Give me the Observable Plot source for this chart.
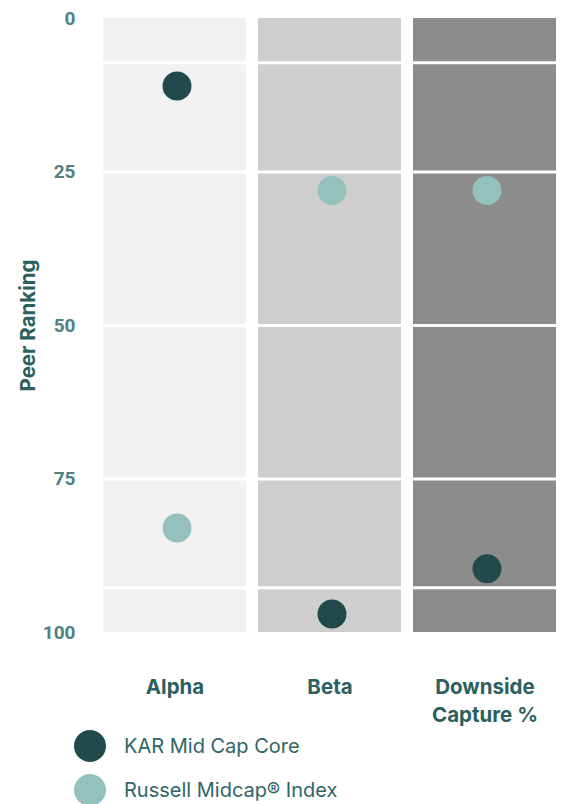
<!DOCTYPE html>
<html>
<head>
<meta charset="utf-8">
<script src="https://cdn.jsdelivr.net/npm/d3@7"></script>
<script src="https://cdn.jsdelivr.net/npm/@observablehq/plot@0.6"></script>
<style>
  html, body { margin: 0; padding: 0; background: #fff; }
  #wrap { position: relative; width: 564px; height: 804px; overflow: hidden; }
  #chart svg { display: block; }
  .legend { position: absolute; left: 0; top: 724px; font-family: Inter, "Open Sans", sans-serif; font-size: 20px; color: #2f6566; }
  .legend .row { display: flex; align-items: center; height: 44px; }
  .legend svg { margin-left: 74px; margin-right: 18px; }
</style>
</head>
<body>
<div id="wrap">
<div id="chart"></div>
<div class="legend" id="legend"></div>
</div>
<script>
const metrics = ["Alpha", "Beta", "Downside Capture %"];
const metricLabels = ["Alpha", "Beta", "Downside\nCapture %"];
const bgColors = ["#f2f2f2", "#cecece", "#8c8c8c"];
const series = ["KAR Mid Cap Core", "Russell Midcap\u00AE Index"];
const seriesColors = ["#224a4c", "#94c1bc"];
const karValues = [11, 97, 89.6];
const russellValues = [83, 28, 28];
const yTicks = [0, 25, 50, 75, 100];
const gridValues = [7.2, 25, 50, 75, 92.7];

const points = [];
metrics.forEach((m, i) => {
  points.push({metric: m, series: series[0], value: karValues[i]});
  points.push({metric: m, series: series[1], value: russellValues[i]});
});

const bgMarks = metrics.map((m, i) =>
  Plot.barY([m], {x: d => d, y1: 0, y2: 100, fill: bgColors[i]})
);

const chart = Plot.plot({
  width: 564,
  height: 740,
  marginLeft: 102,
  marginRight: 8,
  marginTop: 18,
  marginBottom: 108,
  x: {type: "band", domain: metrics, paddingInner: 0.08, paddingOuter: 0, label: null},
  y: {domain: [0, 100], reverse: true, label: null},
  marks: [
    ...bgMarks,
    Plot.ruleY(gridValues, {stroke: "#ffffff", strokeWidth: 3}),
    Plot.axisY({
      ticks: yTicks, tickSize: 0, tickPadding: 27, label: null,
      fontFamily: "Roboto, sans-serif", fontSize: 19, fontWeight: "bold", fill: "#4e8182"
    }),
    Plot.axisX({
      tickSize: 0, tickPadding: 42, label: null,
      tickFormat: d => metricLabels[metrics.indexOf(d)],
      lineHeight: 1.35,
      fontFamily: "Inter, sans-serif", fontSize: 20.5, fontWeight: "bold", fill: "#2c5f60"
    }),
    Plot.text(["Peer Ranking"], {
      frameAnchor: "left", dx: -74, rotate: -90, text: d => d, textAnchor: "middle",
      fontFamily: "Inter, sans-serif", fontSize: 20.5, fontWeight: "bold", fill: "#2c5f60"
    }),
    Plot.dot(points, {
      x: "metric", y: "value", r: 14.5, dx: 2,
      fill: d => seriesColors[series.indexOf(d.series)]
    })
  ]
});
document.getElementById("chart").appendChild(chart);

const legend = document.getElementById("legend");
series.forEach((s, i) => {
  const row = document.createElement("div");
  row.className = "row";
  row.innerHTML = `<svg width="32" height="32"><circle cx="16" cy="16" r="16" fill="${seriesColors[i]}"/></svg><span>${s}</span>`;
  legend.appendChild(row);
});
</script>
</body>
</html>
